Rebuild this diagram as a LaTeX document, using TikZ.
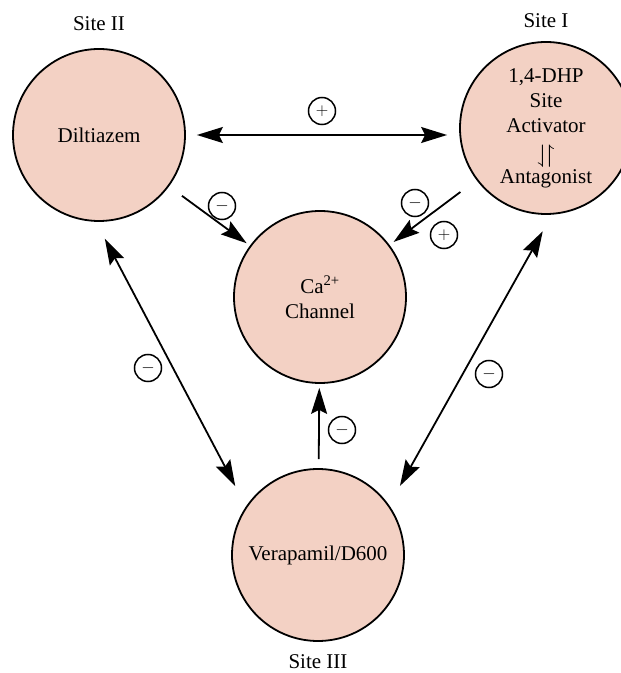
\documentclass[tikz,border=0pt]{standalone}
\usepackage{fontspec}
\usepackage{amssymb}
\usepackage{graphicx}
\setmainfont{Liberation Serif}
\usetikzlibrary{positioning,arrows.meta}
\definecolor{sitepink}{RGB}{243,209,196}

\begin{document}
\begin{tikzpicture}[x=1pt, y=1pt,
    site/.style={circle, draw, line width=1.8pt, fill=sitepink, minimum size=172pt,
                 inner sep=0pt, align=center, font=\fontsize{21}{25}\selectfont},
    sitename/.style={inner sep=0pt, font=\fontsize{21}{25}\selectfont},
    sign/.style={circle, draw, line width=1.5pt, minimum size=27pt, inner sep=0pt,
                 font=\fontsize{17}{17}\selectfont},
    oneway/.style={line width=1.8pt, -{Stealth[length=26pt,width=16pt,inset=4pt]}},
    twoway/.style={line width=1.8pt, {Stealth[length=26pt,width=16pt,inset=4pt]}-{Stealth[length=26pt,width=16pt,inset=4pt]}}]
\useasboundingbox (0,0) rectangle (621,673);

% the four binding sites
\node[site] (dil) at (99,538) {Diltiazem};
\node[site] (dhp) at (546,545) {1,4-DHP\\Site\\Activator\\[3pt]
    \raisebox{-2pt}{\scalebox{1.3}[1.2]{$\downharpoonleft\!\upharpoonright$}}\\[-2pt]Antagonist};
\node[site] (ca) at (320,376) {Ca\textsuperscript{2+}\\Channel};
\node[site] (ver) at (318,118) {Verapamil/D600};

\node[sitename, above=17pt of dil] (dilname) {Site II};
\node[sitename, above=13pt of dhp] (dhpname) {Site I};
\node[sitename, below=12pt of ver] (vername) {Site III};

% interactions
\draw[twoway, shorten <=11pt, shorten >=12pt] (dil.east) -- (dil.east -| dhp.west);
\draw[oneway, shorten <=16pt, shorten >=4pt] (dil) -- (ca);
\draw[oneway, shorten <=20pt, shorten >=5pt] (dhp) -- (ca);
\draw[twoway, shorten <=19pt, shorten >=23pt] (dil.-92) -- (ver.146);
\draw[twoway, shorten <=19pt, shorten >=22pt] (dhp.-86) -- (ver.35);
\draw[oneway, shorten <=9pt, shorten >=4pt] (ver) -- (ca);

\node[sign] (s1) at (322,562) {$+$};
\node[sign] (s2) at (222,467) {$-$};
\node[sign] (s3) at (415,470) {$-$};
\node[sign] (s4) at (444,438) {$+$};
\node[sign] (s5) at (148,305) {$-$};
\node[sign] (s6) at (489,299) {$-$};
\node[sign] (s7) at (342,243) {$-$};
\end{tikzpicture}
\end{document}
